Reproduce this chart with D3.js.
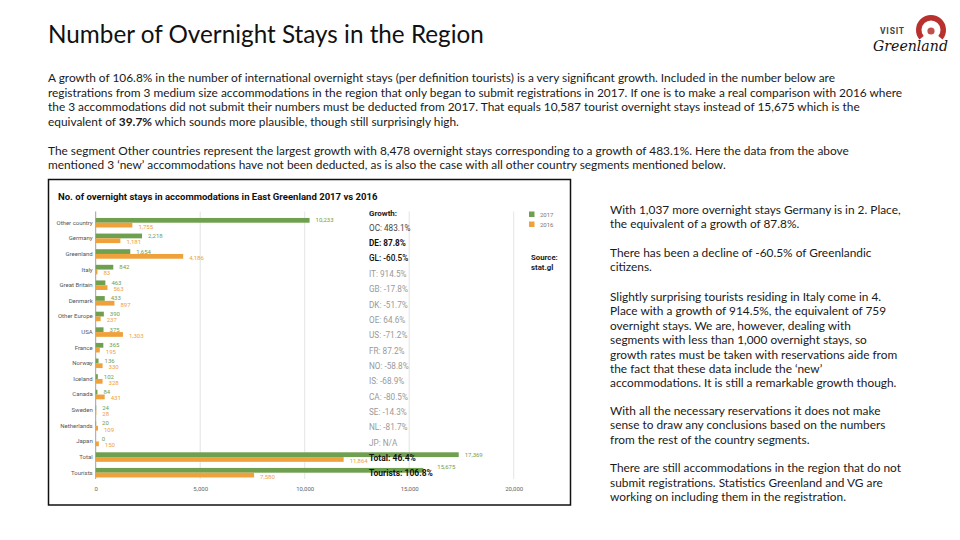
<!DOCTYPE html>
<html><head><meta charset="utf-8">
<script src="https://cdn.jsdelivr.net/npm/d3@7/dist/d3.min.js"></script>
<style>html,body{margin:0;padding:0;background:#fff;}svg{display:block;}</style>
</head><body>
<svg id="s" width="960" height="540"></svg>
<script>
const categories = ["Other country","Germany","Greenland","Italy","Great Britain","Denmark","Other Europe","USA","France","Norway","Iceland","Canada","Sweden","Netherlands","Japan","Total","Tourists"];
const values2017 = [10233,2218,1654,842,463,433,390,375,365,136,102,84,24,20,0,17369,15675];
const values2016 = [1755,1181,4186,83,563,897,237,1303,195,330,328,431,28,109,150,11864,7580];
const growthLabels = ["OC: 483.1%","DE: 87.8%","GL: -60.5%","IT: 914.5%","GB: -17.8%","DK: -51.7%","OE: 64.6%","US: -71.2%","FR: 87.2%","NO: -58.8%","IS: -68.9%","CA: -80.5%","SE: -14.3%","NL: -81.7%","JP: N/A","Total: 46.4%","Tourists: 106.8%"];
const xTicks = [0,5000,10000,15000,20000];
const seriesNames = ["2017","2016"];

const GREEN = "#6fa04f", ORANGE = "#efa13b";
const svg = d3.select("#s");

function fit(sel, target){
  const n = sel.node();
  const w = n.getComputedTextLength();
  const fs = parseFloat(sel.attr("font-size"));
  sel.attr("font-size", (fs*target/w).toFixed(3));
  return fs*target/w;
}

// Slide title
const title = svg.append("text").attr("x",48).attr("y",43).attr("font-family","Lato").attr("font-size",22)
  .attr("fill","#111").text("Number of Overnight Stays in the Region");
fit(title, 436);

// Logo
const logo = svg.append("g");
logo.append("path").attr("d", d3.arc()({innerRadius:9.5,outerRadius:15,startAngle:-Math.PI*0.72,endAngle:Math.PI*0.72}))
  .attr("transform","translate(931,30)").attr("fill","#b8312f");
logo.append("circle").attr("cx",931).attr("cy",31).attr("r",3.6).attr("fill","#c0504d");
logo.append("text").attr("x",880).attr("y",34).attr("font-family","Roboto").attr("font-weight","bold")
  .attr("font-size",8.5).attr("letter-spacing",0.8).attr("fill","#444").text("VISIT");
const gl = logo.append("text").attr("x",873).attr("y",51).attr("font-family","DejaVu Serif").attr("font-style","italic")
  .attr("font-size",14).attr("fill","#111").text("Greenland");
fit(gl, 75);

// Body paragraphs
const leftLines = [
  {y:76.7, t:[["A growth of 106.8% in the number of international overnight stays (per definition tourists) is a very significant growth. Included in the number below are",false]]},
  {y:91.5, t:[["registrations from 3 medium size accommodations in the region that only began to submit registrations in 2017. If one is to make a real comparison with 2016 where",false]]},
  {y:106, t:[["the 3 accommodations did not submit their numbers must be deducted from 2017. That equals  10,587 tourist overnight stays instead of 15,675 which is the",false]]},
  {y:120.7, t:[["equivalent of ",false],["39.7%",true],[" which sounds more plausible, though still surprisingly high.",false]]},
  {y:150, t:[["The segment Other countries represent the largest growth with 8,478 overnight stays corresponding to a growth of 483.1%. Here the data from the above",false]]},
  {y:164.3, t:[["mentioned 3 \u2018new\u2019 accommodations have not been deducted, as is also the case with all other country segments mentioned below.",false]]}
];
const lt = svg.append("g").attr("font-family","Lato").attr("fill","#1a1a1a");
leftLines.forEach((l,i)=>{
  const t = lt.append("text").attr("x",48).attr("y",l.y).attr("dominant-baseline","central").attr("font-size",11);
  l.t.forEach(p=>t.append("tspan").attr("font-weight",p[1]?"bold":null).text(p[0]));
  l.node = t;
});
const bodyFs = fit(leftLines[0].node, 788);
leftLines.forEach(l=>l.node.attr("font-size",bodyFs));

const rightLines = [
  [209,"With 1,037 more overnight stays Germany is in 2. Place,"],
  [223.5,"the equivalent of a growth of 87.8%."],
  [252,"There has been a decline of -60.5% of Greenlandic"],
  [266.5,"citizens."],
  [296,"Slightly surprising tourists residing in Italy come in 4."],
  [310.5,"Place with a growth of 914.5%, the equivalent of 759"],
  [325,"overnight stays. We are, however, dealing with"],
  [339.5,"segments with less than 1,000 overnight stays, so"],
  [354,"growth rates must be taken with reservations aide from"],
  [368,"the fact that these data include the \u2018new\u2019"],
  [382.5,"accommodations. It is still a remarkable growth though."],
  [410,"With all the necessary reservations it does not make"],
  [424.5,"sense to draw any conclusions based on the numbers"],
  [439.5,"from the rest of the country segments."],
  [467.5,"There are still accommodations in the region that do not"],
  [482,"submit registrations. Statistics Greenland and VG are"],
  [496.5,"working on including them in the registration."]
];
const rt = svg.append("g").attr("font-family","Lato").attr("fill","#1a1a1a");
const rNodes = rightLines.map(r=>rt.append("text").attr("x",610).attr("y",r[0]).attr("dominant-baseline","central").attr("font-size",11).text(r[1]));
const rFs = fit(rNodes[0], 291);
rNodes.forEach(n=>n.attr("font-size",rFs));

// Chart image box
svg.append("rect").attr("x",48.5).attr("y",179.5).attr("width",522).attr("height",325.5)
  .attr("fill","#fff").attr("stroke","#111").attr("stroke-width",1.5);

const ct = svg.append("text").attr("x",58).attr("y",196).attr("dominant-baseline","central")
  .attr("font-family","Roboto").attr("font-weight","bold").attr("font-size",10.5).attr("fill","#111")
  .text("No. of overnight stays in accommodations in East Greenland 2017 vs 2016");
fit(ct, 320);

const x = d3.scaleLinear().domain([0,20000]).range([95.7,513.7]);
const y = d3.scaleBand().domain(categories).range([214.9,480.5]).paddingInner(0.39).paddingOuter(0.195);
const ySub = d3.scaleBand().domain(seriesNames).range([0,y.bandwidth()]);

const g = svg.append("g");
// gridlines
g.selectAll("line.grid").data(xTicks.slice(1)).join("line")
  .attr("x1",d=>x(d)).attr("x2",d=>x(d)).attr("y1",211.5).attr("y2",479)
  .attr("stroke","#dcdcdc").attr("stroke-width",0.8);

// x axis
const xAxis = g.append("g").attr("transform","translate(0,484)")
  .call(d3.axisBottom(x).tickValues(xTicks).tickSize(0).tickFormat(d3.format(",")));
xAxis.select(".domain").remove();
xAxis.selectAll("text").attr("font-family","Roboto").attr("font-size",6).attr("fill","#666");

// y axis labels
const yAxis = g.append("g").attr("transform","translate(95.7,0)")
  .call(d3.axisLeft(y).tickSize(0).tickPadding(3));
yAxis.select(".domain").attr("stroke","#888").attr("stroke-width",0.8)
  .attr("d","M0,211.5V479");
yAxis.selectAll("text").attr("font-family","Roboto").attr("font-size",6).attr("fill","#555");

const series = [values2017, values2016];
const colors = [GREEN, ORANGE];
series.forEach((vals,si)=>{
  const name = seriesNames[si];
  g.selectAll("rect.s"+si).data(categories).join("rect")
    .attr("x",x(0)).attr("y",(d)=>y(d)+ySub(name))
    .attr("width",(d,i)=>x(vals[i])-x(0)).attr("height",ySub.bandwidth())
    .attr("fill",colors[si]);
  g.selectAll("text.l"+si).data(categories).join("text")
    .attr("x",(d,i)=>x(vals[i])+((si===0&&i===16)?14:6))
    .attr("y",(d,i)=>y(d)+ySub(name)+ySub.bandwidth()/2+(si?1:-0.5)-((si===0&&i===16)?3.5:0))
    .attr("dominant-baseline","central")
    .attr("font-family","Roboto").attr("font-size",6).attr("fill",colors[si])
    .text((d,i)=>d3.format(",")(vals[i]));
});

// Growth annotations
const ga = g.append("g").attr("font-family","Roboto");
ga.append("text").attr("x",369).attr("y",213).attr("dominant-baseline","central")
  .attr("font-size",8).attr("font-weight","bold").attr("fill","#222").text("Growth:");
ga.selectAll("text.gr").data(growthLabels).join("text")
  .attr("x",369).attr("y",(d,i)=>227.7+i*15.36)
  .attr("dominant-baseline","central")
  .attr("font-size",(d,i)=>i>=15?8.5:8.2)
  .attr("font-weight",(d,i)=>(i===1||i>=15)?"bold":(i===2?"500":"normal"))
  .attr("fill",(d,i)=>i===0?"#444":(i===1||i===2||i>=15)?"#111":"#9a9a9a")
  .text(d=>d);

// Legend
const lg = g.append("g");
seriesNames.forEach((n,i)=>{
  lg.append("rect").attr("x",529).attr("y",211.5+i*10).attr("width",5.5).attr("height",5.5).attr("fill",colors[i]);
  lg.append("text").attr("x",540).attr("y",214.3+i*10).attr("dominant-baseline","central")
    .attr("font-family","Roboto").attr("font-size",6).attr("fill","#777").text(n);
});
lg.append("text").attr("x",531).attr("y",257).attr("dominant-baseline","central")
  .attr("font-family","Roboto").attr("font-weight","bold").attr("font-size",7.8).attr("fill","#222").text("Source:");
lg.append("text").attr("x",531).attr("y",267).attr("dominant-baseline","central")
  .attr("font-family","Roboto").attr("font-weight","bold").attr("font-size",7.8).attr("fill","#222").text("stat.gl");
</script>
</body></html>
